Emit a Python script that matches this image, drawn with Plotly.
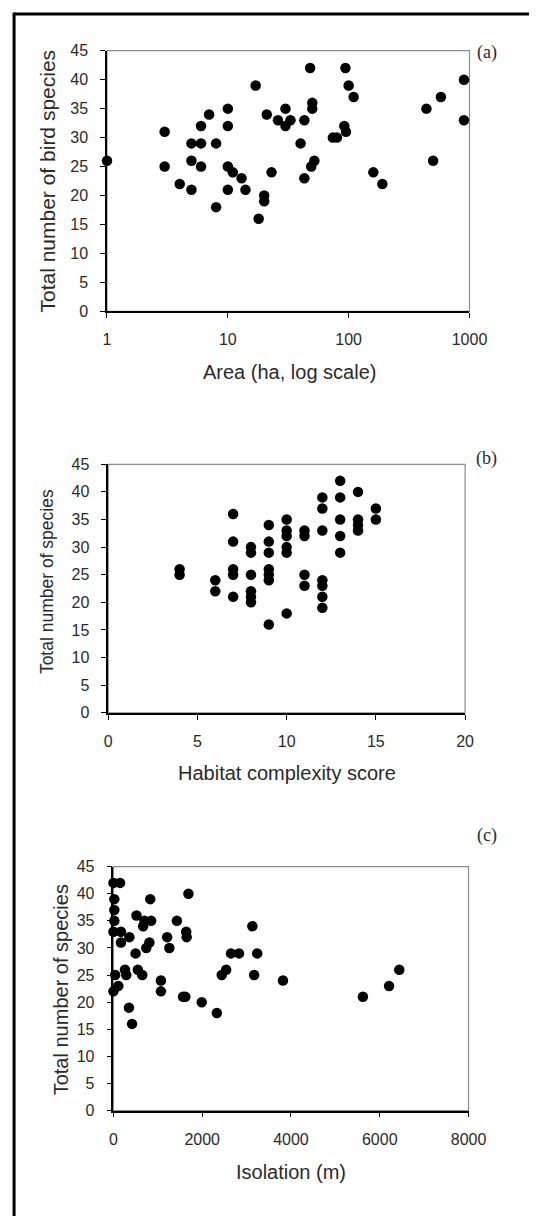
import plotly.graph_objects as go

W, H = 547, 1225

# Panel (a)
area = [1, 3, 3, 4, 5, 6, 5, 6, 5, 6, 7, 8, 8, 10, 10, 10, 11, 13, 14, 10,
        17, 18, 20, 20, 21, 23, 26, 30, 30, 33, 43, 40, 43, 48, 50, 50, 49, 52, 74, 80,
        92, 95, 94, 100, 110, 160, 190, 440, 580, 500, 900, 900]
species_a = [26, 31, 25, 22, 29, 29, 26, 25, 21, 32, 34, 29, 18, 35, 32, 25, 24, 23, 21, 21,
             39, 16, 20, 19, 34, 24, 33, 35, 32, 33, 33, 29, 23, 42, 36, 35, 25, 26, 30, 30,
             32, 31, 42, 39, 37, 24, 22, 35, 37, 26, 40, 33]

# Panel (b)
complexity = [4, 4, 6, 6, 7, 7, 7, 7, 7, 8, 8, 8, 8, 8, 8, 9, 9, 9, 9, 9, 9, 9,
              10, 10, 10, 10, 10, 10, 11, 11, 11, 11, 12, 12, 12, 12, 12, 12, 12,
              13, 13, 13, 13, 13, 14, 14, 14, 14, 15, 15]
species_b = [26, 25, 24, 22, 36, 31, 26, 25, 21, 30, 29, 25, 22, 21, 20, 34, 31, 29, 26, 25, 24, 16,
             35, 33, 32, 30, 29, 18, 33, 32, 25, 23, 39, 37, 33, 24, 23, 21, 19,
             42, 39, 35, 32, 29, 40, 35, 34, 33, 37, 35]

# Panel (c)
isolation = [0, 150, 20, 20, 20, 0, 170, 360, 170, 520, 670, 700, 850, 830, 810, 740, 500, 1210, 1260, 1430,
             1690, 1640, 1650, 260, 290, 40, 550, 650, 0, 110, 1070, 1070, 1570, 1620, 1990, 350, 420,
             2440, 2540, 2650, 2830, 3130, 3240, 3170, 3820, 2330, 5620, 6210, 6440]
species_c = [42, 42, 39, 37, 35, 33, 33, 32, 31, 36, 34, 35, 35, 39, 31, 30, 29, 32, 30, 35,
             40, 33, 32, 26, 25, 25, 26, 25, 22, 23, 24, 22, 21, 21, 20, 19, 16,
             25, 26, 29, 29, 34, 29, 25, 24, 18, 21, 23, 26]

panel_labels = ["(a)", "(b)", "(c)"]
x_titles = ["Area (ha, log scale)", "Habitat complexity score", "Isolation (m)"]
y_titles = ["Total number of bird species", "Total number of species", "Total number of species"]


def px_x(p):
    return p / W


def px_y(p):
    return 1 - p / H


# plot areas in pixels: (left, right, top, bottom)
boxes = [(107.3, 485.0, 43.3, 307.7),
         (108.6, 480.4, 462.7, 714.7),
         (114.0, 484.0, 870.7, 1118.2)]

TICKFONT = dict(family="Liberation Sans, Arial, sans-serif", size=16, color="#2a2a2a")
TITLEFONT = "Liberation Sans, Arial, sans-serif"

fig = go.Figure()
marker = dict(color="black", size=10.5, line=dict(width=0))
fig.add_trace(go.Scatter(x=area, y=species_a, mode="markers", marker=marker,
                         xaxis="x", yaxis="y", cliponaxis=False, showlegend=False))
fig.add_trace(go.Scatter(x=complexity, y=species_b, mode="markers", marker=marker,
                         xaxis="x2", yaxis="y2", cliponaxis=False, showlegend=False))
fig.add_trace(go.Scatter(x=isolation, y=species_c, mode="markers", marker=marker,
                         xaxis="x3", yaxis="y3", cliponaxis=False, showlegend=False))

layout = dict(width=W, height=H, margin=dict(l=0, r=0, t=0, b=0),
              paper_bgcolor="white", plot_bgcolor="rgba(0,0,0,0)", showlegend=False)

xranges = [[0, 3], [0, 20], [0, 8000]]
xtypes = ["log", "linear", "linear"]
xdticks = [1, 5, 2000]
for i, (l, r, t, b) in enumerate(boxes):
    sfx = "" if i == 0 else str(i + 1)
    ax = dict(domain=[px_x(l), px_x(r)], range=xranges[i], type=xtypes[i], dtick=xdticks[i],
              showline=True, linecolor="black", linewidth=1.5, ticks="outside", ticklen=5,
              tickwidth=1, tickcolor="black", showgrid=False, zeroline=False,
              tickfont=TICKFONT, anchor="y" + sfx, ticklabelstandoff=8, fixedrange=True)
    if xtypes[i] == "linear":
        ax["tick0"] = 0
    ay = dict(domain=[px_y(b), px_y(t)], range=[0, 45], dtick=5, tick0=0,
              showline=True, linecolor="black", linewidth=1.5, ticks="outside", ticklen=5,
              tickwidth=1, tickcolor="black", showgrid=False, zeroline=False,
              tickfont=TICKFONT, anchor="x" + sfx, ticklabelstandoff=9, fixedrange=True)
    layout["xaxis" + sfx] = ax
    layout["yaxis" + sfx] = ay

fig.update_layout(**layout)

shapes = []
for i in range(3):
    sfx = "" if i == 0 else str(i + 1)
    shapes.append(dict(type="rect", xref="x" + sfx + " domain", yref="y" + sfx + " domain",
                       x0=0, x1=1, y0=0, y1=1, line=dict(color="#8c8c8c", width=1.2),
                       layer="below"))
# outer frame (top and left)
shapes.append(dict(type="line", xref="paper", yref="paper", x0=px_x(10.5), x1=1,
                   y0=px_y(6), y1=px_y(6), line=dict(color="black", width=3)))
shapes.append(dict(type="line", xref="paper", yref="paper", x0=px_x(10.5), x1=px_x(10.5),
                   y0=px_y(4.5), y1=0, line=dict(color="black", width=3)))
fig.update_layout(shapes=shapes)

ann = []
# panel labels
for lab, yy in zip(panel_labels, [45, 456.5, 839]):
    ann.append(dict(text=lab, x=px_x(503), y=px_y(yy), xref="paper", yref="paper",
                    xanchor="center", yanchor="middle", showarrow=False,
                    font=dict(family="Liberation Serif, Times New Roman, serif", size=18, color="#2a2a2a")))
# x titles
for txt, xx, yy, sz in zip(x_titles, [297, 294.5, 299], [369, 776, 1180], [20, 20, 20]):
    ann.append(dict(text=txt, x=px_x(xx), y=px_y(yy), xref="paper", yref="paper",
                    xanchor="center", yanchor="middle", showarrow=False,
                    font=dict(family=TITLEFONT, size=sz, color="#2a2a2a")))
# y titles
for txt, xx, yy, sz in zip(y_titles, [45.3, 45, 59], [175.5, 582, 995.5], [21, 17.5, 20]):
    ann.append(dict(text=txt, x=px_x(xx), y=px_y(yy), xref="paper", yref="paper",
                    xanchor="center", yanchor="middle", showarrow=False, textangle=-90,
                    font=dict(family=TITLEFONT, size=sz, color="#2a2a2a")))
fig.update_layout(annotations=ann)

fig.write_html("out.html")
